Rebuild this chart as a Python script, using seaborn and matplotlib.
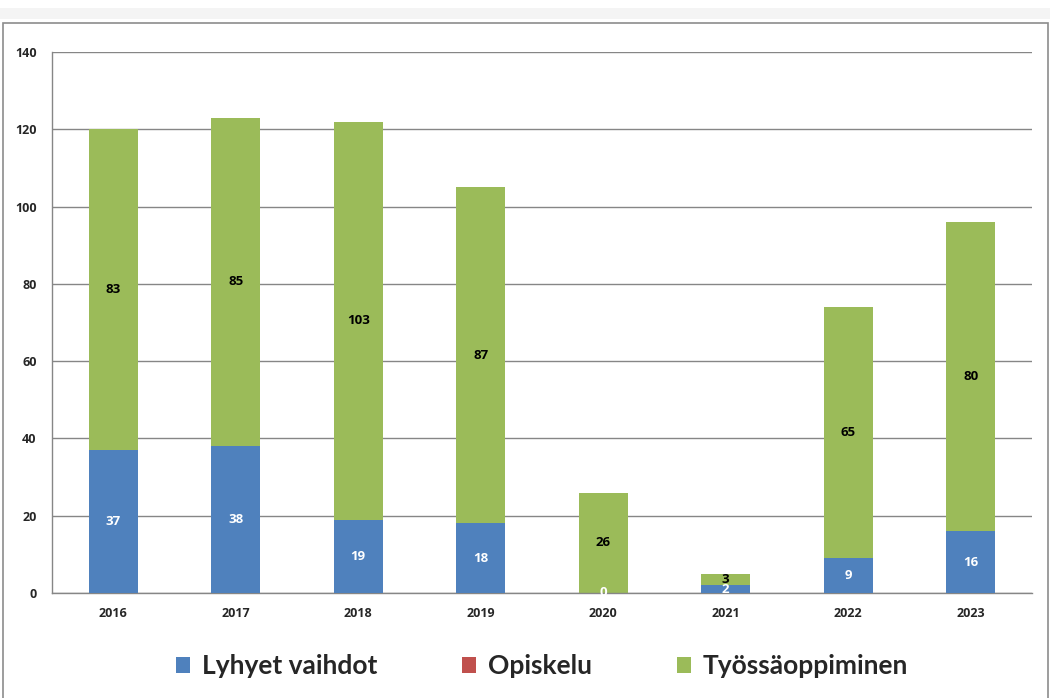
import matplotlib.pyplot as plt
import matplotlib.patches as mpatches
import numpy as np
import pandas as pd
import seaborn as sns

years = ['2016', '2017', '2018', '2019', '2020', '2021', '2022', '2023']
lyhyet = [37, 38, 19, 18, 0, 2, 9, 16]
opiskelu = [0, 0, 0, 0, 0, 0, 0, 0]
tyossa = [83, 85, 103, 87, 26, 3, 65, 80]
series_names = ['Lyhyet vaihdot', 'Opiskelu', 'Työssäoppiminen']
colors = ['#4F81BD', '#C0504D', '#9BBB59']

sns.set_style('white')
plt.rcParams['font.family'] = ['Open Sans', 'DejaVu Sans']

df = pd.DataFrame({'year': years, 'lyhyet': lyhyet, 'opiskelu': opiskelu, 'tyossa': tyossa})
df['top_red'] = df['lyhyet'] + df['opiskelu']
df['total'] = df['top_red'] + df['tyossa']

fig = plt.figure(figsize=(10.5, 6.98), dpi=100)
# light grey strip and outer frame
fig.patches.append(mpatches.Rectangle((0, 1 - 19 / 698), 1, 11 / 698, transform=fig.transFigure,
                                      facecolor='#f4f4f4', edgecolor='none', zorder=0))
fig.patches.append(mpatches.Rectangle((3 / 1050, -0.01), 1045 / 1050, 1 - 23 / 698 + 0.01,
                                      transform=fig.transFigure, facecolor='none',
                                      edgecolor='#8c8c8c', linewidth=1.2, zorder=0))

ax = fig.add_axes([52 / 1050, 105 / 698, 980 / 1050, 541 / 698])

# stacked bars: draw totals first, then lower segments on top
bar_kw = dict(width=0.4, saturation=1, linewidth=0, edgecolor='none', ax=ax)
sns.barplot(data=df, x='year', y='total', color=colors[2], zorder=2, **bar_kw)
sns.barplot(data=df, x='year', y='top_red', color=colors[1], zorder=3, **bar_kw)
sns.barplot(data=df, x='year', y='lyhyet', color=colors[0], zorder=4, **bar_kw)

# segment labels
for i in range(len(years)):
    ax.text(i, df['lyhyet'][i] / 2, str(df['lyhyet'][i]), ha='center', va='center',
            color='white', fontsize=9.5, fontweight='bold', zorder=6)
    ax.text(i, df['top_red'][i] + df['tyossa'][i] / 2, str(df['tyossa'][i]), ha='center',
            va='center', color='black', fontsize=9.5, fontweight='bold', zorder=6)

ax.set_xlim(-0.5, len(years) - 0.5)
ax.set_ylim(0, 140)
ax.set_yticks(np.arange(0, 141, 20))
ax.yaxis.grid(True, color='#868686', linewidth=1)
ax.set_axisbelow(True)
ax.set_xlabel('')
ax.set_ylabel('')

sns.despine(ax=ax, top=True, right=True)
for s in ['left', 'bottom']:
    ax.spines[s].set_color('#868686')
    ax.spines[s].set_linewidth(1)

ax.set_xticks(np.arange(-0.5, len(years), 1), minor=True)
ax.tick_params(axis='x', which='major', length=0, pad=10)
ax.tick_params(axis='x', which='minor', length=5, color='#868686', direction='out')
ax.tick_params(axis='y', length=5, color='#868686', direction='out', pad=6)
for lab in ax.get_xticklabels() + ax.get_yticklabels():
    lab.set_fontsize(9)
    lab.set_fontweight('bold')

handles = [mpatches.Patch(facecolor=c, edgecolor='none') for c in colors]
leg = ax.legend(handles, series_names, loc='center', bbox_to_anchor=(0.5, -0.135), ncol=3,
                frameon=False, handlelength=0.55, handleheight=0.55, handletextpad=0.45,
                columnspacing=3.2,
                prop={'family': ['Lato', 'DejaVu Sans'], 'size': 19, 'weight': 'bold'})

fig.savefig('out.png', dpi=100)
